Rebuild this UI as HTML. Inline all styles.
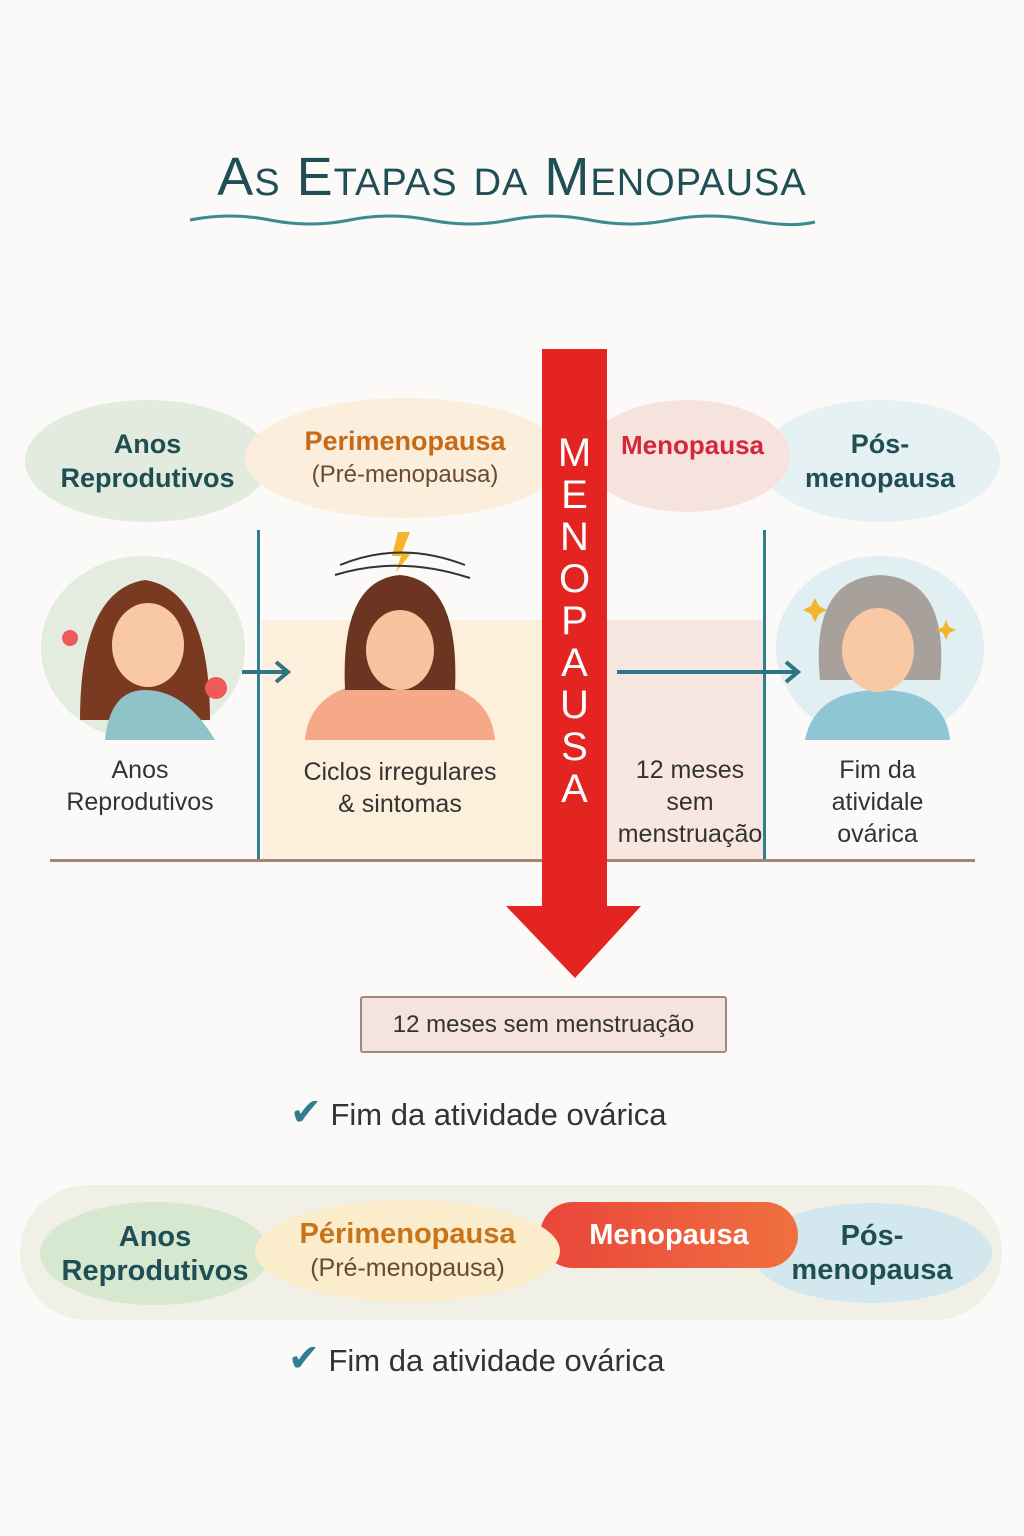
<!DOCTYPE html>
<html><head><meta charset="utf-8"><style>
*{margin:0;padding:0;box-sizing:border-box}
body{width:1024px;height:1536px;background:#fcf9f9;position:relative;overflow:hidden;font-family:"Liberation Sans","DejaVu Sans",sans-serif}
.a{position:absolute}
.pill{position:absolute;border-radius:50%;display:flex;flex-direction:column;align-items:center;justify-content:center;text-align:center;font-size:27px;line-height:34px;font-weight:bold}
.lbl{position:absolute;text-align:center;font-size:25px;line-height:32px;color:#333}
</style></head><body>
<div class="a" style="left:0;top:146px;width:1024px;text-align:center;color:#1f4f55;font-size:54px;font-variant:small-caps;letter-spacing:1px">As Etapas da Menopausa</div>
<svg class="a" style="left:0;top:0" width="1024" height="1536">
<path d="M190 220 Q230 212 270 220 T350 220 T430 220 T510 220 T590 220 T670 220 T750 220 T815 222" stroke="#3d8a90" stroke-width="3" fill="none"/>
</svg>
<div class="pill" style="left:25px;top:400px;width:245px;height:122px;background:#e2ebdd;color:#1f4f55">Anos<br>Reprodutivos</div>
<div class="pill" style="left:245px;top:398px;width:320px;height:120px;background:#fbeedc;color:#c76a17">Perimenopausa<span style="color:#6a4a30;font-size:24px;font-weight:normal">(Pré-menopausa)</span></div>
<div class="pill" style="left:760px;top:400px;width:240px;height:122px;background:#e6f1f3;color:#1f4f55">Pós-<br>menopausa</div>
<div class="pill" style="left:585px;top:400px;width:205px;height:112px;background:#f7e3de;color:#d2283a;padding-bottom:22px;font-size:26px;padding-left:10px">Menopausa</div>
<div class="a" style="left:262px;top:620px;width:280px;height:240px;background:#fcf0dc"></div>
<div class="a" style="left:607px;top:620px;width:158px;height:240px;background:#f8e6e1"></div>
<div class="a" style="left:257px;top:530px;width:3px;height:330px;background:#2f7f8f"></div>
<div class="a" style="left:763px;top:530px;width:3px;height:330px;background:#2f7f8f"></div>
<div class="a" style="left:50px;top:859px;width:925px;height:3px;background:#a48472"></div>
<svg class="a" style="left:0;top:0" width="1024" height="1536">
<ellipse cx="143" cy="648" rx="102" ry="92" fill="#e4ece0"/>
<ellipse cx="880" cy="648" rx="104" ry="92" fill="#e2eff2"/>
<path d="M80 720 Q80 590 145 580 Q210 590 210 720 Z" fill="#7a3a22"/>
<path d="M105 740 Q110 690 145 690 Q185 690 215 740 Z" fill="#8fc3c8"/>
<ellipse cx="148" cy="645" rx="36" ry="42" fill="#f8c9a4"/>
<circle cx="70" cy="638" r="8" fill="#ee5a5a"/><circle cx="216" cy="688" r="11" fill="#ee5a5a"/>
<path d="M305 740 Q310 680 400 680 Q490 680 495 740 Z" fill="#f5a988"/>
<path d="M345 690 Q340 580 400 575 Q460 580 455 690 Z" fill="#6b3522"/>
<ellipse cx="400" cy="650" rx="34" ry="40" fill="#f8c4a0"/>
<path d="M398 532 L410 532 L402 552 L412 552 L396 572 L401 556 L392 556 Z" fill="#f6b42a"/>
<path d="M340 565 Q400 540 465 565 M335 575 Q400 555 470 578" stroke="#333" stroke-width="2" fill="none"/>
<path d="M805 740 Q815 690 880 690 Q945 690 950 740 Z" fill="#8fc6d4"/>
<path d="M820 680 Q810 578 880 575 Q950 578 940 680 Z" fill="#a8a09a"/>
<ellipse cx="878" cy="650" rx="36" ry="42" fill="#f8c9a4"/>
<path d="M815 598 l4 8 8 4 -8 4 -4 8 -4 -8 -8 -4 8 -4z M946 620 l3 7 7 3 -7 3 -3 7 -3 -7 -7 -3 7 -3z" fill="#f2b52c"/>
<g stroke="#2f7585" stroke-width="4" fill="none"><path d="M242 672 H288 M276 662 L288 672 276 682"/><path d="M617 672 H798 M786 662 L798 672 786 682"/></g>
<path d="M542 349 H607 V906 H641 L575 978 L506 906 H542 Z" fill="#e42420"/>
</svg>
<div class="a" style="left:542px;top:432px;width:65px;text-align:center;color:#fff;font-size:40px;line-height:42px">M<br>E<br>N<br>O<br>P<br>A<br>U<br>S<br>A</div>
<div class="lbl" style="left:40px;top:754px;width:200px">Anos<br>Reprodutivos</div>
<div class="lbl" style="left:270px;top:756px;width:260px">Ciclos irregulares<br>&amp; sintomas</div>
<div class="lbl" style="left:605px;top:754px;width:170px">12 meses<br>sem<br>menstruação</div>
<div class="lbl" style="left:780px;top:754px;width:195px">Fim da<br>atividale<br>ovárica</div>
<div class="a" style="left:360px;top:996px;width:367px;height:57px;background:#f5e4dd;border:2px solid #a08a80;border-radius:3px;font-size:24px;line-height:53px;text-align:center;color:#333">12 meses sem menstruação</div>
<div class="a" style="left:290px;top:1090px;font-size:31px;color:#333;white-space:nowrap"><span style="color:#2f7f8f;font-size:38px">✔</span> Fim da atividade ovárica</div>
<div class="a" style="left:20px;top:1185px;width:982px;height:135px;background:#f1f0e6;border-radius:68px"></div>
<div class="pill" style="left:40px;top:1202px;width:230px;height:103px;background:#d6e8cf;color:#1f4f55;font-size:29px">Anos<br>Reprodutivos</div>
<div class="pill" style="left:752px;top:1203px;width:240px;height:100px;background:#d3e8ee;color:#1f4f55;font-size:29px">Pós-<br>menopausa</div>
<div class="pill" style="left:540px;top:1202px;width:258px;height:66px;border-radius:33px;background:linear-gradient(90deg,#e9463a,#f07040);color:#fff;font-size:29px">Menopausa</div>
<div class="pill" style="left:255px;top:1200px;width:305px;height:102px;background:#fbeccb;color:#c9741a;font-size:29px">Périmenopausa<span style="color:#6a4a30;font-size:25px;font-weight:normal">(Pré-menopausa)</span></div>
<div class="a" style="left:288px;top:1336px;font-size:31px;color:#333;white-space:nowrap"><span style="color:#2f7f8f;font-size:38px">✔</span> Fim da atividade ovárica</div>
</body></html>
